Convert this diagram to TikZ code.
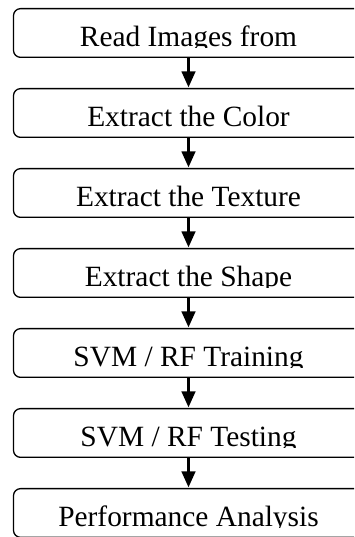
\documentclass[tikz,border=0pt]{standalone}
\usepackage{fontspec}
\setmainfont{Liberation Serif}
\usetikzlibrary{arrows.meta}
\tikzset{
  x=1pt, y=1pt,
  flowrect/.style={draw=black, line width=1.3pt, rounded corners=7pt,
    minimum width=350pt, minimum height=48.7pt, inner sep=0pt},
  flowlbl/.style={inner sep=0pt, font=\fontsize{29.4}{32}\selectfont},
  flowarr/.style={line width=2.8pt, -{Triangle[width=13.5pt,length=16pt]}, shorten >=0.6pt}
}
\newcommand{\flowbox}[3]{%
  \node[flowrect] (#1) at (188.5,{537-#2-25}) {};
  \begin{scope}
    \clip (0,{537-#2-40}) rectangle (354,{537-#2});
    \node[flowlbl, anchor=base] (#1t) at (188.5,{537-#2-38.5}) {#3};
  \end{scope}}
\begin{document}
\begin{tikzpicture}
\useasboundingbox (0,0) rectangle (354,537);
\clip (0,0) rectangle (354,537);
\fill[white] (0,0) rectangle (354,537);
\flowbox{b1}{8}{Read Images from}
\flowbox{b2}{88}{Extract the Color}
\flowbox{b3}{168}{Extract the Texture}
\flowbox{b4}{248}{Extract the Shape}
\flowbox{b5}{328}{SVM / RF Training}
\flowbox{b6}{408}{SVM / RF Testing}
\flowbox{b7}{488}{Performance Analysis}
\draw[flowarr] (b1.south) -- (b2.north);
\draw[flowarr] (b2.south) -- (b3.north);
\draw[flowarr] (b3.south) -- (b4.north);
\draw[flowarr] (b4.south) -- (b5.north);
\draw[flowarr] (b5.south) -- (b6.north);
\draw[flowarr] (b6.south) -- (b7.north);
\end{tikzpicture}
\end{document}
